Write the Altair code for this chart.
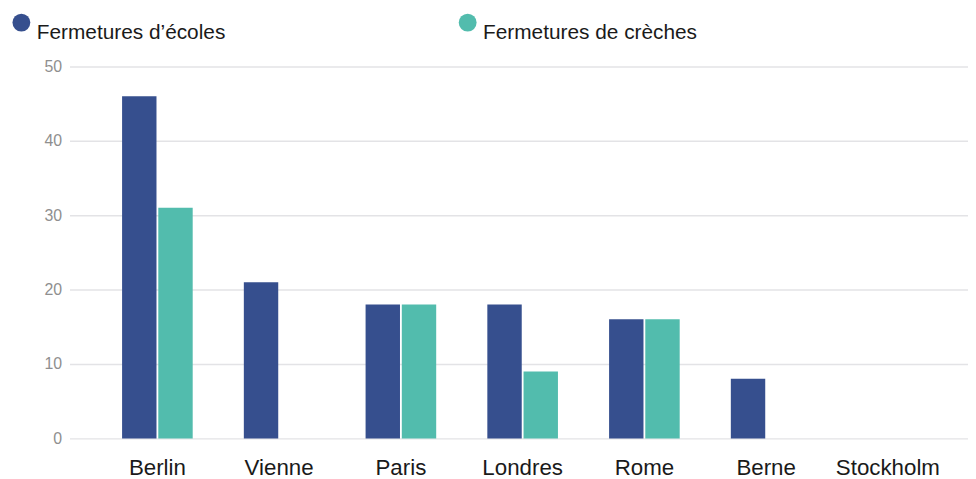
import altair as alt
import pandas as pd

villes = ["Berlin", "Vienne", "Paris", "Londres", "Rome", "Berne", "Stockholm"]
ecoles = [46, 21, 18, 18, 16, 8, 0]
creches = [31, 0, 18, 9, 16, 0, 0]
series = ["Fermetures d’écoles", "Fermetures de crèches"]
couleurs = ["#364f8e", "#52bcad"]

rows = []
for v, e, c in zip(villes, ecoles, creches):
    rows.append({"ville": v, "serie": series[0], "valeur": e})
    rows.append({"ville": v, "serie": series[1], "valeur": c})
df = pd.DataFrame(rows)

chart = alt.Chart(df).mark_bar().encode(
    x=alt.X("ville:N", sort=villes, title=None,
            scale=alt.Scale(paddingInner=0.42, paddingOuter=0.40, align=0.54),
            axis=alt.Axis(labelAngle=0, domain=False, ticks=False, labelFontSize=22.5,
                          labelColor="#1a1a1a", labelPadding=18, labelFont="Liberation Sans")),
    xOffset=alt.XOffset("serie:N", sort=series,
                        scale=alt.Scale(paddingInner=0.05, paddingOuter=0)),
    y=alt.Y("valeur:Q", title=None,
            scale=alt.Scale(domain=[0, 50]),
            axis=alt.Axis(values=[0, 10, 20, 30, 40, 50], domain=False, ticks=False,
                          labelFontSize=16, labelColor="#8f8f8f", labelPadding=8,
                          gridColor="#e3e3e6", gridWidth=1.5, labelFont="Liberation Sans")),
    color=alt.Color("serie:N", sort=series,
                    scale=alt.Scale(domain=series, range=couleurs),
                    legend=alt.Legend(title=None, orient="none", legendX=-59, legendY=-55,
                                      direction="horizontal", symbolType="circle",
                                      symbolSize=324, symbolStrokeWidth=0,
                                      labelFontSize=21, labelFont="Liberation Sans",
                                      labelColor="#1a1a1a", labelOffset=5,
                                      labelBaseline="top", columnPadding=233,
                                      labelLimit=400)),
).properties(
    width=906, height=375,
    autosize=alt.AutoSizeParams(type="none"),
    padding={"left": 62, "top": 57, "right": 0, "bottom": 39},
).configure_view(stroke=None)

chart.save("out.html", embed_options={"renderer": "svg", "actions": False})
